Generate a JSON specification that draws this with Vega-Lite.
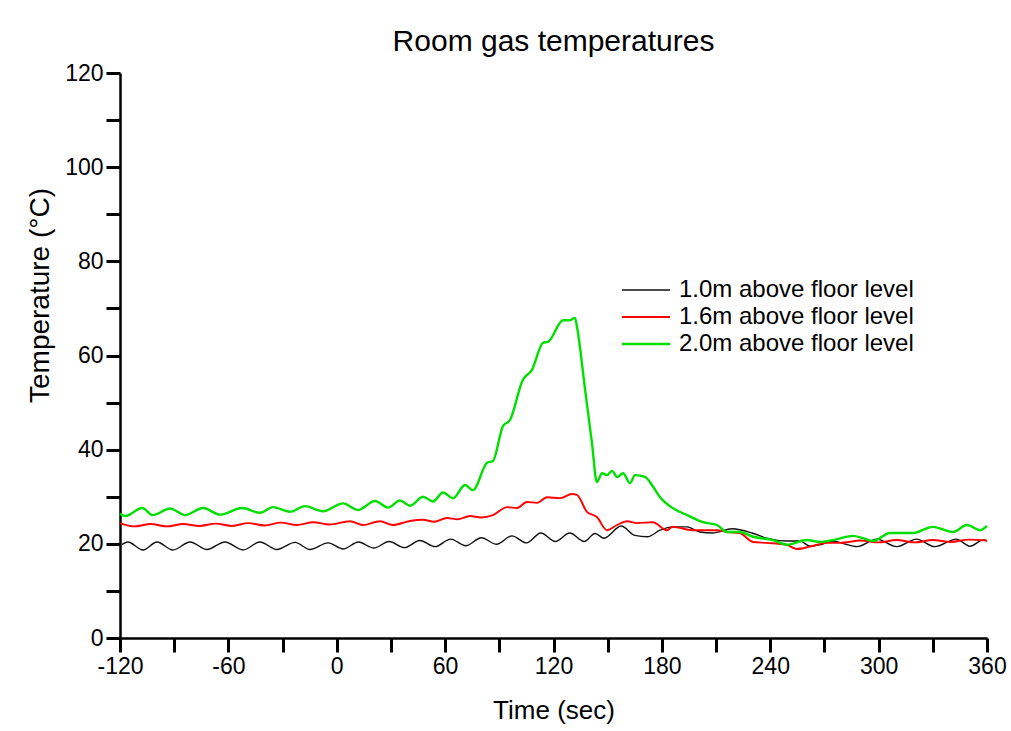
{
  "$schema": "https://vega.github.io/schema/vega-lite/v6.json",
  "width": 867,
  "height": 565,
  "autosize": {"type": "none"},
  "padding": {"left": 120, "top": 73, "right": 24, "bottom": 93},
  "background": "white",
  "title": {"text": "Room gas temperatures", "fontSize": 30, "font": "Liberation Sans", "fontWeight": "normal", "color": "#000000", "offset": 5},
  "config": {
    "view": {"stroke": null},
    "axis": {"labelFont": "Liberation Sans", "titleFont": "Liberation Sans", "labelColor": "#000000", "titleColor": "#000000", "domainColor": "#000000", "tickColor": "#000000", "grid": false, "titleFontWeight": "normal", "labelFontSize": 23, "titleFontSize": 26, "domainWidth": 2.5},
    "legend": {"labelFont": "Liberation Sans", "labelColor": "#000000"}
  },
  "data": {"values": [
    {"t": -120, "T": 19.6, "s": "1.0m above floor level"},
    {"t": -115.6, "T": 20.4, "s": "1.0m above floor level"},
    {"t": -107.3, "T": 18.7, "s": "1.0m above floor level"},
    {"t": -99.5, "T": 20.4, "s": "1.0m above floor level"},
    {"t": -90.7, "T": 18.7, "s": "1.0m above floor level"},
    {"t": -81.2, "T": 20.4, "s": "1.0m above floor level"},
    {"t": -71.8, "T": 18.8, "s": "1.0m above floor level"},
    {"t": -61.9, "T": 20.4, "s": "1.0m above floor level"},
    {"t": -51.9, "T": 18.7, "s": "1.0m above floor level"},
    {"t": -42.5, "T": 20.4, "s": "1.0m above floor level"},
    {"t": -33.1, "T": 18.8, "s": "1.0m above floor level"},
    {"t": -23.1, "T": 20.3, "s": "1.0m above floor level"},
    {"t": -14.8, "T": 18.8, "s": "1.0m above floor level"},
    {"t": -4.8, "T": 20.2, "s": "1.0m above floor level"},
    {"t": 3.6, "T": 18.9, "s": "1.0m above floor level"},
    {"t": 12, "T": 20.4, "s": "1.0m above floor level"},
    {"t": 20.5, "T": 19.1, "s": "1.0m above floor level"},
    {"t": 29, "T": 20.5, "s": "1.0m above floor level"},
    {"t": 37.5, "T": 19.2, "s": "1.0m above floor level"},
    {"t": 46, "T": 20.7, "s": "1.0m above floor level"},
    {"t": 54.5, "T": 19.4, "s": "1.0m above floor level"},
    {"t": 63, "T": 21.0, "s": "1.0m above floor level"},
    {"t": 71.5, "T": 19.6, "s": "1.0m above floor level"},
    {"t": 80, "T": 21.3, "s": "1.0m above floor level"},
    {"t": 88.5, "T": 19.9, "s": "1.0m above floor level"},
    {"t": 97, "T": 21.7, "s": "1.0m above floor level"},
    {"t": 105, "T": 20.2, "s": "1.0m above floor level"},
    {"t": 113, "T": 22.3, "s": "1.0m above floor level"},
    {"t": 121, "T": 20.5, "s": "1.0m above floor level"},
    {"t": 129, "T": 22.3, "s": "1.0m above floor level"},
    {"t": 137, "T": 20.5, "s": "1.0m above floor level"},
    {"t": 143, "T": 22.2, "s": "1.0m above floor level"},
    {"t": 148, "T": 21.2, "s": "1.0m above floor level"},
    {"t": 157.5, "T": 23.8, "s": "1.0m above floor level"},
    {"t": 165, "T": 21.8, "s": "1.0m above floor level"},
    {"t": 172, "T": 21.5, "s": "1.0m above floor level"},
    {"t": 179, "T": 22.9, "s": "1.0m above floor level"},
    {"t": 186, "T": 23.6, "s": "1.0m above floor level"},
    {"t": 194, "T": 23.6, "s": "1.0m above floor level"},
    {"t": 201, "T": 22.5, "s": "1.0m above floor level"},
    {"t": 208, "T": 22.3, "s": "1.0m above floor level"},
    {"t": 219, "T": 23.2, "s": "1.0m above floor level"},
    {"t": 230, "T": 22.3, "s": "1.0m above floor level"},
    {"t": 238, "T": 21.2, "s": "1.0m above floor level"},
    {"t": 249, "T": 20.6, "s": "1.0m above floor level"},
    {"t": 256.5, "T": 20.6, "s": "1.0m above floor level"},
    {"t": 262, "T": 19.5, "s": "1.0m above floor level"},
    {"t": 267.5, "T": 19.8, "s": "1.0m above floor level"},
    {"t": 274.7, "T": 20.6, "s": "1.0m above floor level"},
    {"t": 281, "T": 20.0, "s": "1.0m above floor level"},
    {"t": 288, "T": 19.4, "s": "1.0m above floor level"},
    {"t": 299, "T": 21.0, "s": "1.0m above floor level"},
    {"t": 310, "T": 19.4, "s": "1.0m above floor level"},
    {"t": 321, "T": 21.0, "s": "1.0m above floor level"},
    {"t": 331, "T": 19.4, "s": "1.0m above floor level"},
    {"t": 343, "T": 21.0, "s": "1.0m above floor level"},
    {"t": 350.6, "T": 19.5, "s": "1.0m above floor level"},
    {"t": 357.8, "T": 20.8, "s": "1.0m above floor level"},
    {"t": 360, "T": 20.6, "s": "1.0m above floor level"},

    {"t": -120, "T": 24.4, "s": "1.6m above floor level"},
    {"t": -112, "T": 23.7, "s": "1.6m above floor level"},
    {"t": -103, "T": 24.2, "s": "1.6m above floor level"},
    {"t": -94, "T": 23.7, "s": "1.6m above floor level"},
    {"t": -85, "T": 24.2, "s": "1.6m above floor level"},
    {"t": -76, "T": 23.8, "s": "1.6m above floor level"},
    {"t": -67, "T": 24.3, "s": "1.6m above floor level"},
    {"t": -58, "T": 23.8, "s": "1.6m above floor level"},
    {"t": -49, "T": 24.4, "s": "1.6m above floor level"},
    {"t": -40, "T": 23.9, "s": "1.6m above floor level"},
    {"t": -31, "T": 24.5, "s": "1.6m above floor level"},
    {"t": -22, "T": 24.0, "s": "1.6m above floor level"},
    {"t": -13, "T": 24.6, "s": "1.6m above floor level"},
    {"t": -4, "T": 24.1, "s": "1.6m above floor level"},
    {"t": 7.3, "T": 24.8, "s": "1.6m above floor level"},
    {"t": 14.5, "T": 24.0, "s": "1.6m above floor level"},
    {"t": 24, "T": 24.8, "s": "1.6m above floor level"},
    {"t": 31, "T": 24.0, "s": "1.6m above floor level"},
    {"t": 40, "T": 24.8, "s": "1.6m above floor level"},
    {"t": 47.7, "T": 25.1, "s": "1.6m above floor level"},
    {"t": 54, "T": 24.7, "s": "1.6m above floor level"},
    {"t": 61, "T": 25.5, "s": "1.6m above floor level"},
    {"t": 67, "T": 25.2, "s": "1.6m above floor level"},
    {"t": 73.8, "T": 25.9, "s": "1.6m above floor level"},
    {"t": 80, "T": 25.6, "s": "1.6m above floor level"},
    {"t": 86.5, "T": 26.1, "s": "1.6m above floor level"},
    {"t": 94.3, "T": 27.8, "s": "1.6m above floor level"},
    {"t": 99.8, "T": 27.6, "s": "1.6m above floor level"},
    {"t": 105.3, "T": 28.9, "s": "1.6m above floor level"},
    {"t": 110.9, "T": 28.7, "s": "1.6m above floor level"},
    {"t": 116.4, "T": 29.9, "s": "1.6m above floor level"},
    {"t": 123.6, "T": 29.7, "s": "1.6m above floor level"},
    {"t": 130.2, "T": 30.6, "s": "1.6m above floor level"},
    {"t": 133, "T": 30.4, "s": "1.6m above floor level"},
    {"t": 138.5, "T": 26.8, "s": "1.6m above floor level"},
    {"t": 144, "T": 25.7, "s": "1.6m above floor level"},
    {"t": 149.6, "T": 22.9, "s": "1.6m above floor level"},
    {"t": 155.2, "T": 24.0, "s": "1.6m above floor level"},
    {"t": 160.7, "T": 24.8, "s": "1.6m above floor level"},
    {"t": 166.2, "T": 24.4, "s": "1.6m above floor level"},
    {"t": 175, "T": 24.6, "s": "1.6m above floor level"},
    {"t": 182.8, "T": 22.9, "s": "1.6m above floor level"},
    {"t": 186, "T": 23.6, "s": "1.6m above floor level"},
    {"t": 197, "T": 22.9, "s": "1.6m above floor level"},
    {"t": 210.5, "T": 22.9, "s": "1.6m above floor level"},
    {"t": 216, "T": 22.5, "s": "1.6m above floor level"},
    {"t": 223, "T": 22.3, "s": "1.6m above floor level"},
    {"t": 230.5, "T": 20.4, "s": "1.6m above floor level"},
    {"t": 238, "T": 20.2, "s": "1.6m above floor level"},
    {"t": 249, "T": 19.8, "s": "1.6m above floor level"},
    {"t": 254.8, "T": 18.9, "s": "1.6m above floor level"},
    {"t": 262, "T": 19.4, "s": "1.6m above floor level"},
    {"t": 271.4, "T": 20.2, "s": "1.6m above floor level"},
    {"t": 278.6, "T": 20.2, "s": "1.6m above floor level"},
    {"t": 290, "T": 20.7, "s": "1.6m above floor level"},
    {"t": 300, "T": 20.3, "s": "1.6m above floor level"},
    {"t": 310, "T": 20.8, "s": "1.6m above floor level"},
    {"t": 320, "T": 20.3, "s": "1.6m above floor level"},
    {"t": 330, "T": 20.8, "s": "1.6m above floor level"},
    {"t": 340, "T": 20.4, "s": "1.6m above floor level"},
    {"t": 350, "T": 20.9, "s": "1.6m above floor level"},
    {"t": 360, "T": 20.7, "s": "1.6m above floor level"},

    {"t": -120, "T": 26.4, "s": "2.0m above floor level"},
    {"t": -117, "T": 25.9, "s": "2.0m above floor level"},
    {"t": -107.8, "T": 27.6, "s": "2.0m above floor level"},
    {"t": -101.7, "T": 26.1, "s": "2.0m above floor level"},
    {"t": -92.3, "T": 27.5, "s": "2.0m above floor level"},
    {"t": -84, "T": 26.1, "s": "2.0m above floor level"},
    {"t": -74, "T": 27.6, "s": "2.0m above floor level"},
    {"t": -64.6, "T": 26.2, "s": "2.0m above floor level"},
    {"t": -52.5, "T": 27.6, "s": "2.0m above floor level"},
    {"t": -42.5, "T": 26.6, "s": "2.0m above floor level"},
    {"t": -35.3, "T": 27.8, "s": "2.0m above floor level"},
    {"t": -25.9, "T": 26.8, "s": "2.0m above floor level"},
    {"t": -17.6, "T": 28.0, "s": "2.0m above floor level"},
    {"t": -7.6, "T": 26.9, "s": "2.0m above floor level"},
    {"t": 3.5, "T": 28.6, "s": "2.0m above floor level"},
    {"t": 11.8, "T": 27.2, "s": "2.0m above floor level"},
    {"t": 21.2, "T": 29.1, "s": "2.0m above floor level"},
    {"t": 28.4, "T": 27.7, "s": "2.0m above floor level"},
    {"t": 35, "T": 29.2, "s": "2.0m above floor level"},
    {"t": 40.6, "T": 28.1, "s": "2.0m above floor level"},
    {"t": 47.8, "T": 30.0, "s": "2.0m above floor level"},
    {"t": 53.3, "T": 29.0, "s": "2.0m above floor level"},
    {"t": 58.8, "T": 30.9, "s": "2.0m above floor level"},
    {"t": 64.4, "T": 29.7, "s": "2.0m above floor level"},
    {"t": 71, "T": 32.5, "s": "2.0m above floor level"},
    {"t": 75.4, "T": 31.4, "s": "2.0m above floor level"},
    {"t": 83.2, "T": 37.2, "s": "2.0m above floor level"},
    {"t": 86.5, "T": 37.6, "s": "2.0m above floor level"},
    {"t": 92, "T": 45.0, "s": "2.0m above floor level"},
    {"t": 95.9, "T": 46.3, "s": "2.0m above floor level"},
    {"t": 103, "T": 54.8, "s": "2.0m above floor level"},
    {"t": 108, "T": 56.9, "s": "2.0m above floor level"},
    {"t": 114.2, "T": 62.7, "s": "2.0m above floor level"},
    {"t": 117, "T": 62.9, "s": "2.0m above floor level"},
    {"t": 125.3, "T": 67.5, "s": "2.0m above floor level"},
    {"t": 129.1, "T": 67.5, "s": "2.0m above floor level"},
    {"t": 131.9, "T": 68.0, "s": "2.0m above floor level"},
    {"t": 133, "T": 66.1, "s": "2.0m above floor level"},
    {"t": 137.5, "T": 52.7, "s": "2.0m above floor level"},
    {"t": 141.3, "T": 41.4, "s": "2.0m above floor level"},
    {"t": 144, "T": 33.1, "s": "2.0m above floor level"},
    {"t": 146.9, "T": 35.0, "s": "2.0m above floor level"},
    {"t": 149.6, "T": 34.6, "s": "2.0m above floor level"},
    {"t": 152.4, "T": 35.5, "s": "2.0m above floor level"},
    {"t": 155.2, "T": 34.2, "s": "2.0m above floor level"},
    {"t": 158.5, "T": 35.0, "s": "2.0m above floor level"},
    {"t": 162.4, "T": 32.9, "s": "2.0m above floor level"},
    {"t": 165.1, "T": 34.6, "s": "2.0m above floor level"},
    {"t": 170.7, "T": 34.2, "s": "2.0m above floor level"},
    {"t": 174.5, "T": 32.5, "s": "2.0m above floor level"},
    {"t": 179, "T": 29.9, "s": "2.0m above floor level"},
    {"t": 186, "T": 27.6, "s": "2.0m above floor level"},
    {"t": 194, "T": 26.1, "s": "2.0m above floor level"},
    {"t": 202.8, "T": 24.6, "s": "2.0m above floor level"},
    {"t": 210.5, "T": 24.0, "s": "2.0m above floor level"},
    {"t": 216, "T": 22.5, "s": "2.0m above floor level"},
    {"t": 223, "T": 22.5, "s": "2.0m above floor level"},
    {"t": 230.5, "T": 21.5, "s": "2.0m above floor level"},
    {"t": 241.5, "T": 20.8, "s": "2.0m above floor level"},
    {"t": 249.3, "T": 19.8, "s": "2.0m above floor level"},
    {"t": 260.3, "T": 20.8, "s": "2.0m above floor level"},
    {"t": 267.5, "T": 20.4, "s": "2.0m above floor level"},
    {"t": 277, "T": 21.0, "s": "2.0m above floor level"},
    {"t": 285.8, "T": 21.7, "s": "2.0m above floor level"},
    {"t": 291.4, "T": 21.2, "s": "2.0m above floor level"},
    {"t": 296.9, "T": 20.6, "s": "2.0m above floor level"},
    {"t": 306.3, "T": 22.3, "s": "2.0m above floor level"},
    {"t": 319, "T": 22.3, "s": "2.0m above floor level"},
    {"t": 330, "T": 23.6, "s": "2.0m above floor level"},
    {"t": 341.2, "T": 22.5, "s": "2.0m above floor level"},
    {"t": 348.9, "T": 24.0, "s": "2.0m above floor level"},
    {"t": 356.1, "T": 22.9, "s": "2.0m above floor level"},
    {"t": 360, "T": 23.8, "s": "2.0m above floor level"}
  ]},
  "mark": {"type": "line", "interpolate": "monotone"},
  "encoding": {
    "x": {
      "field": "t", "type": "quantitative",
      "scale": {"domain": [-120, 360], "nice": false, "zero": false},
      "axis": {
        "title": "Time (sec)",
        "values": [-120, -90, -60, -30, 0, 30, 60, 90, 120, 150, 180, 210, 240, 270, 300, 330, 360],
        "labelExpr": "datum.value % 60 === 0 ? '' + datum.value : ''",
        "tickSize": 14,
        "tickWidth": 3,
        "encode": {"ticks": {"update": {"y2": {"signal": "datum.value % 60 === 0 ? 14 : 7"}, "strokeWidth": {"signal": "datum.value % 60 === 0 ? 3 : 2.5"}}}},
        "labelPadding": 3,
        "labelFlush": false,
        "labelOverlap": false,
        "titleY": 80,
        "titleBaseline": "alphabetic"
      }
    },
    "y": {
      "field": "T", "type": "quantitative",
      "scale": {"domain": [0, 120], "nice": false},
      "axis": {
        "title": "Temperature (°C)",
        "titleFontSize": 28,
        "values": [0, 10, 20, 30, 40, 50, 60, 70, 80, 90, 100, 110, 120],
        "labelExpr": "datum.value % 20 === 0 ? '' + datum.value : ''",
        "tickSize": 14,
        "tickWidth": 3,
        "encode": {"ticks": {"update": {"x2": {"signal": "datum.value % 20 === 0 ? -14 : -9"}, "strokeWidth": {"signal": "datum.value % 20 === 0 ? 3 : 2.5"}}}},
        "labelPadding": 3,
        "labelFlush": false,
        "labelOverlap": false,
        "titleX": -72,
        "titleY": 222,
        "titleBaseline": "alphabetic"
      }
    },
    "color": {
      "field": "s", "type": "nominal",
      "scale": {"domain": ["1.0m above floor level", "1.6m above floor level", "2.0m above floor level"], "range": ["#111111", "#ff0000", "#00e000"]},
      "legend": {
        "title": null,
        "orient": "none",
        "legendX": 514,
        "legendY": 205,
        "padding": 0,
        "labelFontSize": 24,
        "labelLimit": 400,
        "symbolType": "M-2.4,0L2.4,0",
        "symbolSize": 400,
        "labelOffset": 21,
        "rowPadding": 3
      }
    },
    "strokeWidth": {
      "field": "s", "type": "nominal",
      "scale": {"domain": ["1.0m above floor level", "1.6m above floor level", "2.0m above floor level"], "range": [1.4, 2.4, 1.4]},
      "legend": {
        "title": null,
        "orient": "none",
        "legendX": 514,
        "legendY": 205,
        "padding": 0,
        "labelFontSize": 24,
        "labelLimit": 400,
        "symbolType": "M-2.4,0L2.4,0",
        "symbolSize": 400,
        "labelOffset": 21,
        "rowPadding": 3
      }
    }
  }
}
